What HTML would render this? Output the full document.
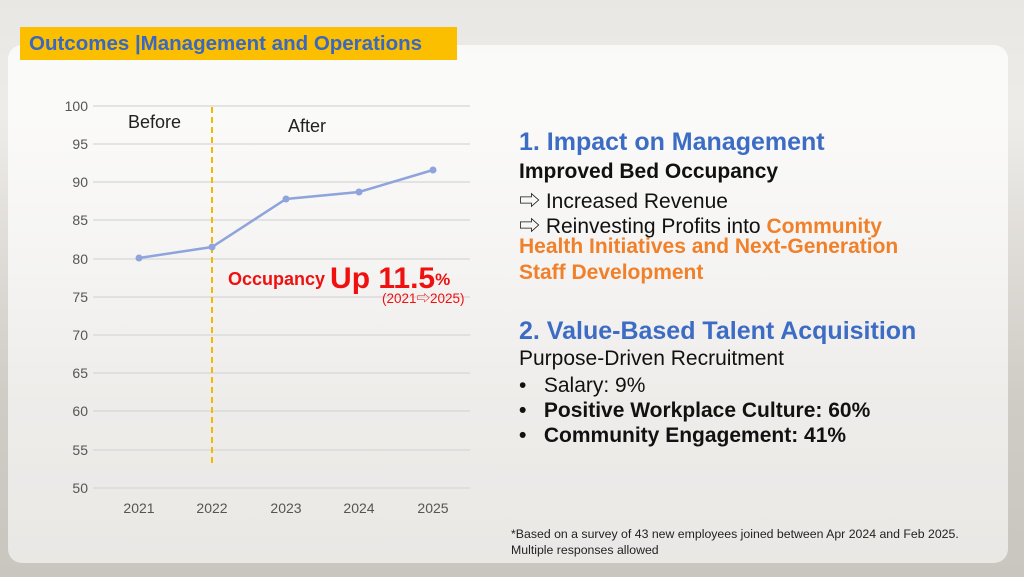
<!DOCTYPE html>
<html><head><style>
body{margin:0;width:1024px;height:577px;overflow:hidden;font-family:"Liberation Sans","Noto Sans CJK JP",sans-serif;}
.bg{position:absolute;inset:0;background:linear-gradient(180deg,#e9e7e3 0%,#eeece9 20%,#dedbd6 45%,#cfcbc5 70%,#c9c6c0 100%);}
.panel{position:absolute;left:8px;top:45px;width:1000px;height:518px;border-radius:14px;background:linear-gradient(180deg,rgba(255,255,255,.75) 0%,rgba(255,255,255,.7) 40%,rgba(246,245,243,.72) 100%);}
.title{position:absolute;left:20px;top:27px;width:437px;height:33px;background:#fbbf00;color:#3a67c0;font-weight:bold;font-size:20.5px;line-height:33px;padding-left:9px;box-sizing:border-box;white-space:nowrap}
.t{position:absolute;white-space:nowrap}
.h{color:#3c6cc4;font-size:25px;font-weight:bold}
.b{color:#111;font-size:21px}
.o{color:#f0802a;font-weight:bold}
</style></head><body>
<div class="bg"></div><div class="panel"></div>
<div class="title">Outcomes |Management and Operations</div>
<svg style="position:absolute;left:0;top:0" width="1024" height="577">
<g stroke="#d6d6d6" stroke-width="1.2">
<line x1="93" x2="470" y1="106" y2="106"/><line x1="93" x2="470" y1="144" y2="144"/><line x1="93" x2="470" y1="182" y2="182"/><line x1="93" x2="470" y1="220" y2="220"/><line x1="93" x2="470" y1="259" y2="259"/><line x1="93" x2="470" y1="297" y2="297"/><line x1="93" x2="470" y1="335" y2="335"/><line x1="93" x2="470" y1="373" y2="373"/><line x1="93" x2="470" y1="411" y2="411"/><line x1="93" x2="470" y1="450" y2="450"/><line x1="93" x2="470" y1="488" y2="488"/>
</g>
<g font-size="14" fill="#555" text-anchor="end" font-family="Liberation Sans,sans-serif">
<text x="88" y="111">100</text><text x="88" y="149">95</text><text x="88" y="187">90</text><text x="88" y="225">85</text><text x="88" y="264">80</text><text x="88" y="302">75</text><text x="88" y="340">70</text><text x="88" y="378">65</text><text x="88" y="416">60</text><text x="88" y="455">55</text><text x="88" y="493">50</text>
</g>
<g font-size="14" fill="#555" text-anchor="middle">
<text x="139" y="513">2021</text><text x="212" y="513">2022</text><text x="286" y="513">2023</text><text x="359" y="513">2024</text><text x="433" y="513">2025</text>
</g>
<line x1="212" y1="107" x2="212" y2="465" stroke="#f5b800" stroke-width="2" stroke-dasharray="6,4"/>
<polyline points="139,258 212,247 286,199 359,192 433,170" fill="none" stroke="#8fa4dc" stroke-width="2.5"/>
<g fill="#8fa4dc"><circle cx="139" cy="258" r="3.5"/><circle cx="212" cy="247" r="3.5"/><circle cx="286" cy="199" r="3.5"/><circle cx="359" cy="192" r="3.5"/><circle cx="433" cy="170" r="3.5"/></g>
<text x="128" y="128" font-size="18" fill="#222">Before</text>
<text x="288" y="132" font-size="18" fill="#222">After</text>
</svg>
<div class="t" style="left:228px;top:259px;color:#f01010;font-weight:bold;font-size:18px">Occupancy <span style="font-size:30px;position:relative;top:3px">Up 11.5</span><span style="font-size:17px">%</span></div>
<div class="t" style="left:382px;top:287px;color:#f01010;font-size:13.5px">(2021⇨2025)</div>
<div class="t h" style="left:519px;top:128px">1. Impact on Management</div>
<div class="t b" style="left:519px;top:160px;font-weight:bold">Improved Bed Occupancy</div>
<div class="t b" style="left:519px;top:185px">⇨ Increased Revenue</div>
<div class="t b" style="left:519px;top:210px">⇨ Reinvesting Profits into <span class="o">Community</span></div>
<div class="t b o" style="left:519px;top:235px">Health Initiatives and Next-Generation</div>
<div class="t b o" style="left:519px;top:261px">Staff Development</div>
<div class="t h" style="left:519px;top:317px">2. Value-Based Talent Acquisition</div>
<div class="t b" style="left:519px;top:347px">Purpose-Driven Recruitment</div>
<div class="t b" style="left:519px;top:374px">•&nbsp;&nbsp; Salary: 9%</div>
<div class="t b" style="left:519px;top:399px;font-weight:bold">•&nbsp;&nbsp; Positive Workplace Culture: 60%</div>
<div class="t b" style="left:519px;top:424px;font-weight:bold">•&nbsp;&nbsp; Community Engagement: 41%</div>
<div class="t" style="left:511px;top:526px;font-size:12.3px;color:#222;line-height:16px">*Based on a survey of 43 new employees joined between Apr 2024 and Feb 2025.<br>Multiple responses allowed</div>
</body></html>
